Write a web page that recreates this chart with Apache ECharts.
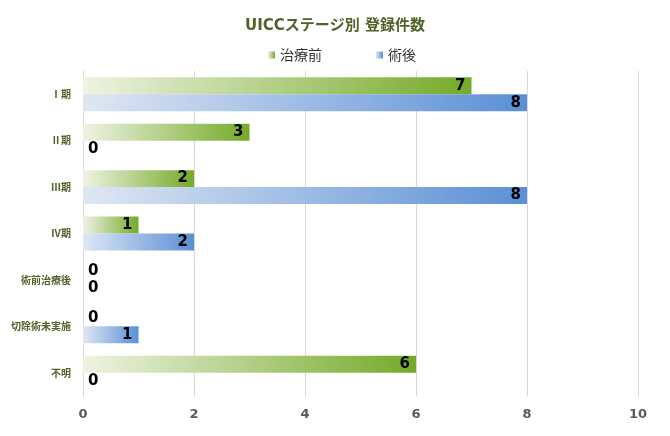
<!DOCTYPE html>
<html>
<head>
<meta charset="utf-8">
<script src="https://cdn.jsdelivr.net/npm/echarts@6/dist/echarts.min.js"></script>
<style>
  html, body { margin: 0; padding: 0; background: #fff; }
  #main { width: 670px; height: 436px; }
</style>
</head>
<body>
<div id="main"></div>
<script>
var categories = ['Ⅰ期', 'Ⅱ期', 'Ⅲ期', 'Ⅳ期', '術前治療後', '切除術未実施', '不明'];
var beforeTreat = [7, 3, 2, 1, 0, 0, 6];
var afterSurgery = [8, 0, 8, 2, 0, 1, 0];
var xTicks = [0, 2, 4, 6, 8, 10];

function grad(c0, c1) {
    return new echarts.graphic.LinearGradient(0, 0, 1, 0, [
        { offset: 0, color: c0 },
        { offset: 1, color: c1 }
    ]);
}

// ゼロは軸の右側、それ以外はバーの内側右端にラベル
function toData(arr) {
    return arr.map(function (v) {
        return {
            value: v,
            label: v === 0 ? { position: 'right', distance: 5 } : { position: 'insideRight', distance: 6 }
        };
    });
}

var myChart = echarts.init(document.getElementById('main'));
var labelStyle = {
    show: true,
    color: '#000',
    fontSize: 15,
    fontWeight: 'bold',
    fontFamily: 'DejaVu Sans'
};
var option = {
    animation: false,
    title: {
        text: 'UICCステージ別 登録件数',
        left: 'center',
        top: 14,
        textStyle: {
            color: '#4f6228',
            fontSize: 15,
            fontWeight: 'bold',
            fontFamily: 'DejaVu Sans, Noto Sans CJK JP'
        }
    },
    legend: {
        top: 43,
        left: 263,
        itemWidth: 7,
        itemHeight: 7,
        itemGap: 54,
        icon: 'rect',
        textStyle: { color: '#333', fontSize: 14, fontFamily: 'Noto Sans CJK JP' },
        data: ['治療前', '術後']
    },
    grid: {
        left: 83,
        right: 32,
        top: 71,
        bottom: 40,
        containLabel: false
    },
    xAxis: {
        type: 'value',
        min: 0,
        max: 10,
        interval: 2,
        axisLine: { show: false },
        axisTick: { show: false },
        splitLine: { lineStyle: { color: '#d9d9d9', width: 1 } },
        axisLabel: {
            color: '#595959',
            fontSize: 13,
            fontWeight: 'bold',
            margin: 12,
            fontFamily: 'DejaVu Sans',
            formatter: function (v) { return xTicks.indexOf(v) >= 0 ? String(v) : ''; }
        }
    },
    yAxis: {
        type: 'category',
        inverse: true,
        data: categories,
        axisLine: { show: true, lineStyle: { color: '#d9d9d9' } },
        axisTick: { show: false },
        axisLabel: {
            color: '#4f6228',
            fontSize: 10,
            fontWeight: 'bold',
            margin: 12,
            fontFamily: 'Noto Sans CJK JP'
        }
    },
    series: [
        {
            name: '治療前',
            type: 'bar',
            barGap: '0%',
            barCategoryGap: '27%',
            data: toData(beforeTreat),
            itemStyle: { color: grad('#eff3e3', '#74aa28') },
            label: labelStyle
        },
        {
            name: '術後',
            type: 'bar',
            data: toData(afterSurgery),
            itemStyle: { color: grad('#dfe7f3', '#5a8fd6') },
            label: labelStyle
        }
    ]
};
myChart.setOption(option);
window.addEventListener('resize', function () { myChart.resize(); });
</script>
</body>
</html>
